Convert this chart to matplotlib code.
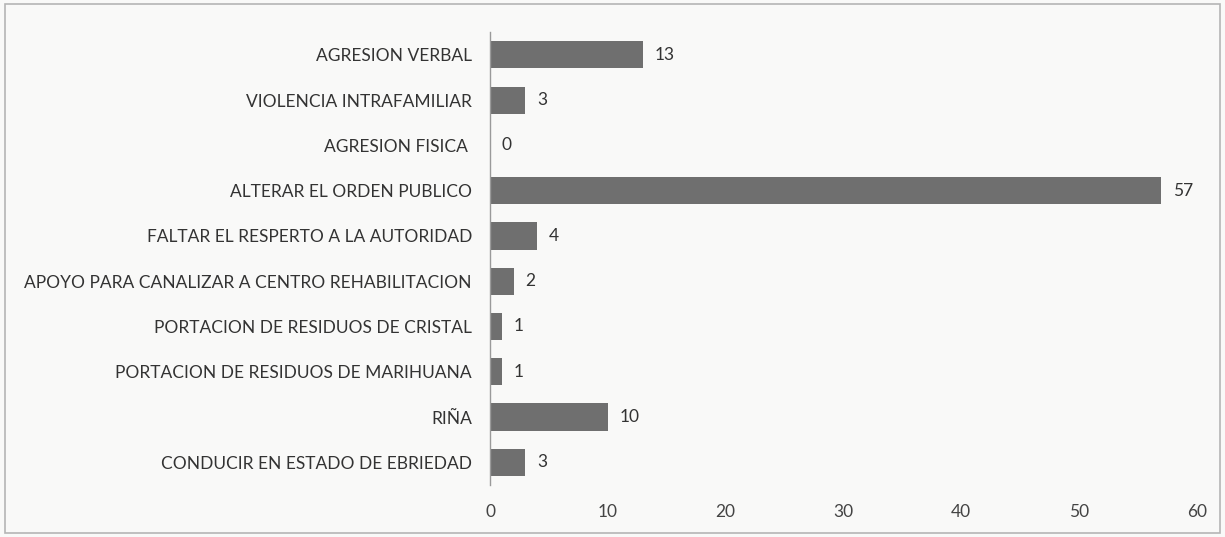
import matplotlib
matplotlib.use("Agg")
import matplotlib.pyplot as plt

categories = [
    "AGRESION VERBAL",
    "VIOLENCIA INTRAFAMILIAR",
    "AGRESION FISICA ",
    "ALTERAR EL ORDEN PUBLICO",
    "FALTAR EL RESPERTO A LA AUTORIDAD",
    "APOYO PARA CANALIZAR A CENTRO REHABILITACION",
    "PORTACION DE RESIDUOS DE CRISTAL",
    "PORTACION DE RESIDUOS DE MARIHUANA",
    "RIÑA",
    "CONDUCIR EN ESTADO DE EBRIEDAD",
]
values = [13, 3, 0, 57, 4, 2, 1, 1, 10, 3]
x_ticks = [0, 10, 20, 30, 40, 50, 60]

plt.rcParams["font.family"] = ["Lato", "DejaVu Sans"]

fig = plt.figure(figsize=(12.25, 5.37), dpi=100)
fig.patch.set_facecolor("#f9f9f8")
ax = fig.add_axes([0.4, 0.097, 0.577, 0.843])
ax.set_facecolor("none")

y = list(range(len(categories)))
ax.barh(y, values, height=0.6, color="#6f6f6f")
for yi, v in zip(y, values):
    ax.text(v + 1.0, yi, str(v), va="center", ha="left", fontsize=12.5, color="#333333")

ax.set_yticks(y)
ax.set_yticklabels(categories, fontsize=12.5, color="#333333")
ax.set_ylim(len(categories) - 0.5, -0.5)
ax.set_xlim(0, 60)
ax.set_xticks(x_ticks)
ax.set_xticklabels([str(t) for t in x_ticks], fontsize=12.5, color="#444444")
ax.tick_params(axis="y", length=0, pad=13)
ax.tick_params(axis="x", length=0, pad=14)
for side in ["top", "right", "bottom"]:
    ax.spines[side].set_visible(False)
ax.spines["left"].set_color("#9a9a9a")
ax.spines["left"].set_linewidth(1)

# outer frame
fig.add_artist(plt.Rectangle((0.004, 0.008), 0.992, 0.985, transform=fig.transFigure,
                             fill=False, edgecolor="#b5b5b5", linewidth=1.2))

fig.savefig("out.png", dpi=100, facecolor=fig.get_facecolor())
